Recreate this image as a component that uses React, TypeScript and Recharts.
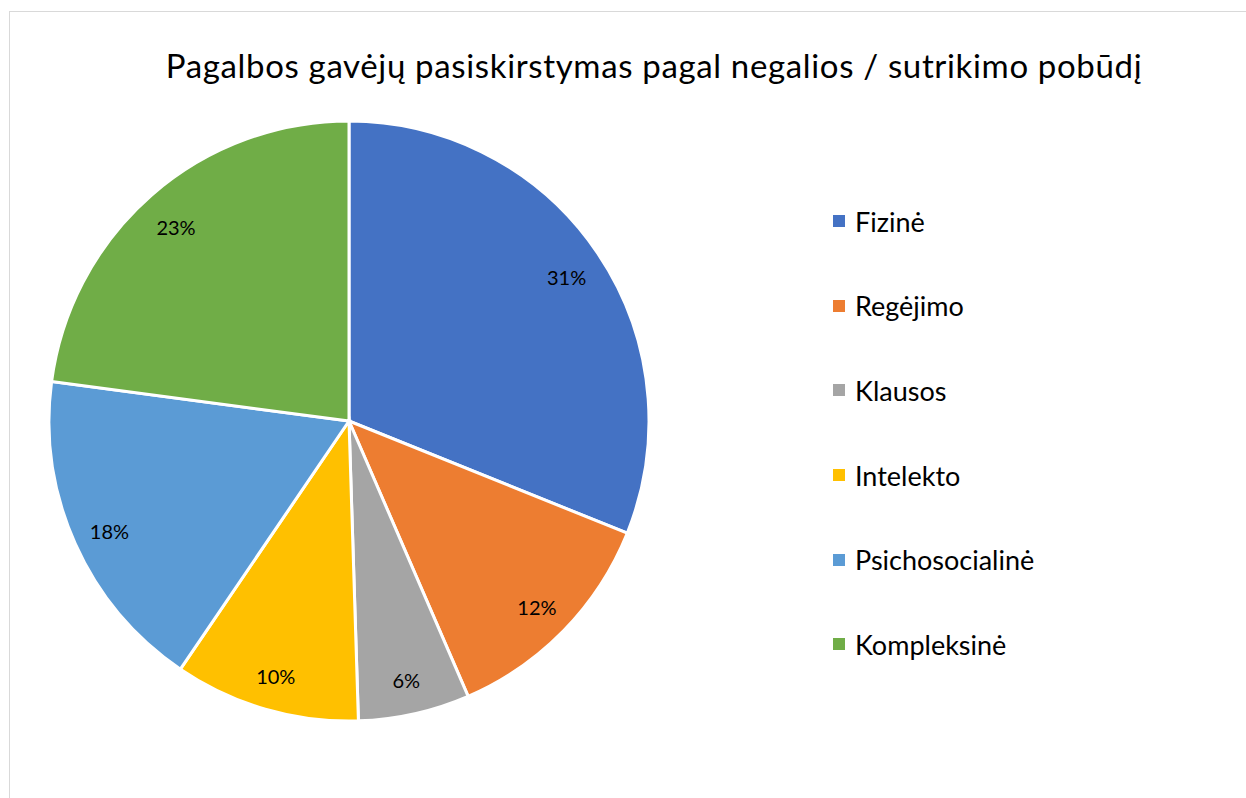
import { Legend, Pie, PieChart, Cell } from "recharts";

const categories = ["Fizinė", "Regėjimo", "Klausos", "Intelekto", "Psichosocialinė", "Kompleksinė"];
const shares = [31.1, 12.4, 6.0, 10.0, 17.6, 22.9];
const colors = ["#4472C4", "#ED7D31", "#A5A5A5", "#FFC000", "#5B9BD5", "#70AD47"];
const title = "Pagalbos gavėjų pasiskirstymas pagal negalios / sutrikimo pobūdį";

const data = categories.map((name, i) => ({ name, value: shares[i] }));
const font = "Lato, 'Open Sans', sans-serif";
const RAD = Math.PI / 180;

function renderLabel(props: any) {
  const { cx, cy, midAngle, outerRadius, percent } = props;
  const r = outerRadius * 0.875;
  const x = cx + r * Math.cos(-midAngle * RAD);
  const y = cy + r * Math.sin(-midAngle * RAD) + 3;
  return (
    <text x={x} y={y} textAnchor="middle" dominantBaseline="central" fill="#000" fontSize={20} fontFamily={font}>
      {Math.round(percent * 100)}%
    </text>
  );
}

function LegendList() {
  return (
    <div style={{ fontFamily: font }}>
      {categories.map((c, i) => (
        <div key={c} style={{ display: "flex", alignItems: "center", height: 84.6 }}>
          <span style={{ width: 12, height: 12, background: colors[i], marginRight: 10, display: "inline-block" }} />
          <span style={{ fontSize: 27, color: "#000" }}>{c}</span>
        </div>
      ))}
    </div>
  );
}

export default function App() {
  return (
    <div style={{ position: "absolute", left: 0, top: 0, width: 1246, height: 798, overflow: "hidden", background: "#fff" }}>
      <div style={{ position: "absolute", left: 9, top: 11, width: 1260, height: 820, border: "1px solid #d9d9d9" }} />
      <div
        style={{
          position: "absolute",
          left: 0,
          top: 45,
          width: 1308,
          textAlign: "center",
          fontFamily: font,
          fontSize: 33,
          letterSpacing: 0.65,
          color: "#000",
        }}
      >
        {title}
      </div>
      <div style={{ position: "absolute", left: 0, top: 0 }}>
        <PieChart width={1246} height={798} margin={{ top: 0, right: 0, bottom: 0, left: 0 }}>
          <Pie
            data={data}
            dataKey="value"
            nameKey="name"
            cx={349}
            cy={421}
            outerRadius={300}
            startAngle={90}
            endAngle={-270}
            stroke="#fff"
            strokeWidth={3}
            label={renderLabel}
            labelLine={false}
            isAnimationActive={false}
          >
            {data.map((d, i) => (
              <Cell key={d.name} fill={colors[i]} />
            ))}
          </Pie>
          <Legend
            layout="vertical"
            content={() => <LegendList />}
            wrapperStyle={{ position: "absolute", left: 833, top: 179, width: 320 }}
          />
        </PieChart>
      </div>
    </div>
  );
}
